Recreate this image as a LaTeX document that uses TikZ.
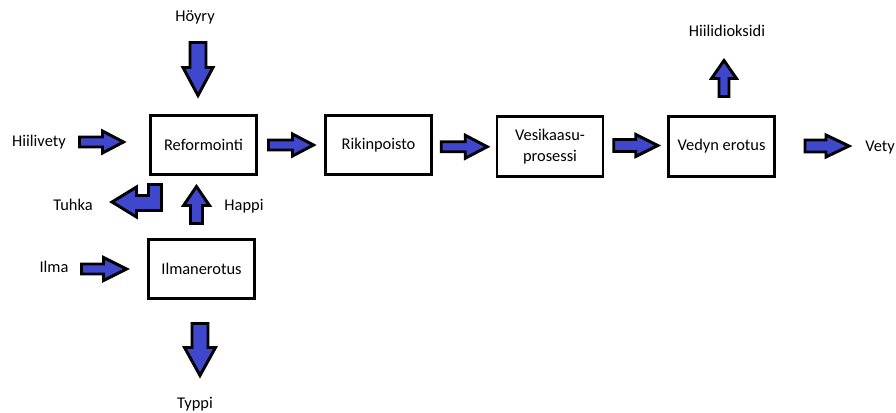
\documentclass[tikz,border=0pt]{standalone}
\usepackage{fontspec}
\setmainfont{Carlito}
\usetikzlibrary{calc}
\definecolor{flowblue}{HTML}{3F48CC}

% fat block arrow: centre, angle, length, shaft half, head half, head length
\newcommand{\flowarrow}[6]{%
  \begin{scope}[shift={#1}, rotate=#2]
    \draw[flow] (-#3/2,-#4) -- (#3/2-#6,-#4) -- (#3/2-#6,-#5) -- (#3/2,0)
      -- (#3/2-#6,#5) -- (#3/2-#6,#4) -- (-#3/2,#4) -- cycle;
  \end{scope}}

\tikzset{
  stage/.style={draw, line width=2.2pt, minimum width=79.5pt, minimum height=44.5pt,
    inner sep=0pt, align=center, font=\fontsize{12.3}{15.5}\selectfont},
  lbl/.style={inner sep=0pt, font=\fontsize{12.3}{15.5}\selectfont},
  flow/.style={draw=black, fill=flowblue, line width=2.2pt}
}

\begin{document}
\begin{tikzpicture}[x=0.75pt, y=-0.75pt]
\useasboundingbox (0,0) rectangle (896,412);

% process boxes
\node[stage] (ref) at (203.5,145) {Reformointi};
\node[stage] (rik) at (378.5,145) {Rikinpoisto};
\node[stage] (ves) at (550,146.5) {Vesikaasu-\\prosessi};
\node[stage] (ved) at (721.5,146.5) {Vedyn erotus};
\node[stage] (ilm) at (201.5,269) {Ilmanerotus};

% streams
\node[lbl] (hoyry) at (195,17) {Höyry};
\node[lbl] (hiilivety) at (39,142) {Hiilivety};
\node[lbl] (tuhka) at (73,205) {Tuhka};
\node[lbl] (happi) at (244,206) {Happi};
\node[lbl] (ilma) at (54,267) {Ilma};
\node[lbl] (typpi) at (195,404) {Typpi};
\node[lbl] (co2) at (727,31) {Hiilidioksidi};
\node[lbl, anchor=west] (vety) at (865,148) {Vety};

% arrows into and out of the chain
\flowarrow{(198,69)}{-90}{53}{8}{15}{28}
\flowarrow{(101.5,142)}{0}{44}{5}{11}{21}
\flowarrow{($(ref.east)!.5!(rik.west)$)}{0}{45}{5}{11}{21}
\flowarrow{($(rik.east)!.5!(ves.west)+(0,1)$)}{0}{46}{5}{11.5}{22}
\flowarrow{($(ves.east)!.5!(ved.west)+(0,-1)$)}{0}{44}{6}{11}{22}
\flowarrow{($(ved.east)+(51,-0.5)$)}{0}{44}{6}{11}{23}
\flowarrow{(104,269)}{0}{45}{5}{11.5}{23}
\flowarrow{(196.5,205)}{90}{37}{6}{13}{19}
\flowarrow{(200,349.5)}{-90}{52}{8}{15.5}{28}
\flowarrow{(724,78.5)}{90}{36}{5}{12.5}{18}

% bent arrow to Tuhka
\draw[flow] (148.5,184.5) -- (161.5,184.5) -- (161.5,210.5) -- (136.5,210.5)
  -- (136.5,217) -- (112,202) -- (136.5,187) -- (136.5,195.5) -- (148.5,195.5) -- cycle;
\end{tikzpicture}
\end{document}
